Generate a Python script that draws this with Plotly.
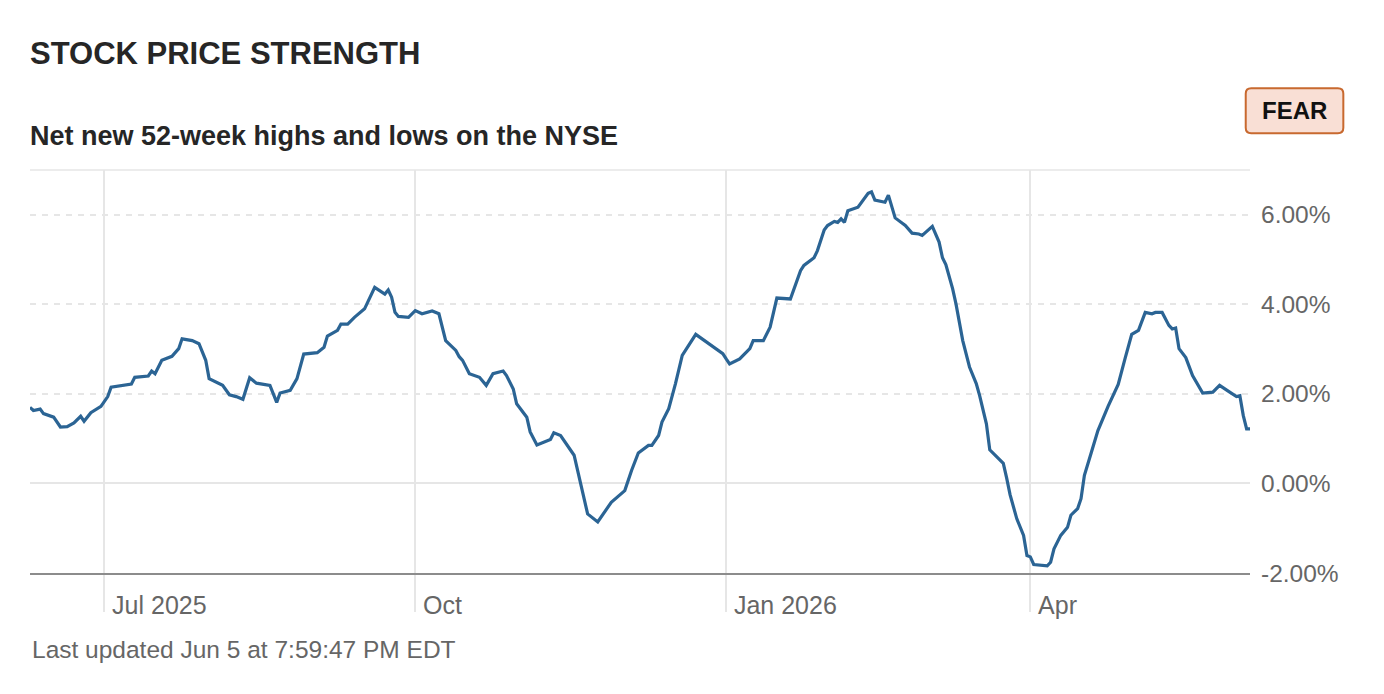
import plotly.graph_objects as go

# ---- data ----
dates = [
    "2025-06-09", "2025-06-10", "2025-06-12", "2025-06-13", "2025-06-16", "2025-06-18", "2025-06-20",
    "2025-06-22", "2025-06-24", "2025-06-25", "2025-06-27", "2025-06-30", "2025-07-02", "2025-07-03",
    "2025-07-09", "2025-07-10", "2025-07-14", "2025-07-15", "2025-07-16", "2025-07-18", "2025-07-21",
    "2025-07-23", "2025-07-24", "2025-07-27", "2025-07-29", "2025-07-30", "2025-07-31", "2025-08-01",
    "2025-08-05", "2025-08-07", "2025-08-09", "2025-08-11", "2025-08-13", "2025-08-15", "2025-08-19",
    "2025-08-21", "2025-08-22", "2025-08-25", "2025-08-27", "2025-08-29", "2025-09-02", "2025-09-04",
    "2025-09-05", "2025-09-08", "2025-09-09", "2025-09-11", "2025-09-13", "2025-09-16", "2025-09-19",
    "2025-09-22", "2025-09-23", "2025-09-24", "2025-09-25", "2025-09-26", "2025-09-29", "2025-10-01",
    "2025-10-03", "2025-10-06", "2025-10-08", "2025-10-10", "2025-10-13", "2025-10-14", "2025-10-15",
    "2025-10-17", "2025-10-20", "2025-10-22", "2025-10-24", "2025-10-27", "2025-10-28", "2025-10-30",
    "2025-10-31", "2025-11-03", "2025-11-04", "2025-11-06", "2025-11-10", "2025-11-11", "2025-11-13",
    "2025-11-17", "2025-11-19", "2025-11-21", "2025-11-24", "2025-11-28", "2025-12-02", "2025-12-04",
    "2025-12-06", "2025-12-09", "2025-12-10", "2025-12-12", "2025-12-13", "2025-12-15", "2025-12-17",
    "2025-12-19", "2025-12-23", "2025-12-29", "2025-12-31", "2026-01-01", "2026-01-02", "2026-01-05",
    "2026-01-07", "2026-01-08", "2026-01-09", "2026-01-12", "2026-01-14", "2026-01-16", "2026-01-20",
    "2026-01-23", "2026-01-24", "2026-01-27", "2026-01-28", "2026-01-30", "2026-01-31", "2026-02-02",
    "2026-02-03", "2026-02-04", "2026-02-05", "2026-02-06", "2026-02-09", "2026-02-10", "2026-02-12",
    "2026-02-13", "2026-02-14", "2026-02-17", "2026-02-18", "2026-02-20", "2026-02-23", "2026-02-25",
    "2026-02-27", "2026-02-28", "2026-03-03", "2026-03-05", "2026-03-06", "2026-03-07", "2026-03-09",
    "2026-03-10", "2026-03-12", "2026-03-14", "2026-03-16", "2026-03-17", "2026-03-19", "2026-03-20",
    "2026-03-23", "2026-03-24", "2026-03-25", "2026-03-26", "2026-03-28", "2026-03-30", "2026-03-31",
    "2026-04-01", "2026-04-02", "2026-04-06", "2026-04-07", "2026-04-08", "2026-04-10", "2026-04-12",
    "2026-04-13", "2026-04-15", "2026-04-16", "2026-04-17", "2026-04-19", "2026-04-21", "2026-04-24",
    "2026-04-27", "2026-04-29", "2026-05-01", "2026-05-03", "2026-05-05", "2026-05-07", "2026-05-08",
    "2026-05-10", "2026-05-12", "2026-05-13", "2026-05-14", "2026-05-15", "2026-05-17", "2026-05-19",
    "2026-05-22", "2026-05-25", "2026-05-27", "2026-05-30", "2026-06-01", "2026-06-02", "2026-06-03",
    "2026-06-04", "2026-06-05",
]

net_highs_lows_pct = [
    1.70, 1.63, 1.66, 1.56, 1.48, 1.26, 1.27,
    1.35, 1.50, 1.39, 1.58, 1.72, 1.94, 2.15,
    2.22, 2.37, 2.40, 2.51, 2.45, 2.75, 2.84,
    3.01, 3.23, 3.19, 3.12, 2.93, 2.75, 2.34,
    2.19, 1.98, 1.94, 1.88, 2.36, 2.24, 2.19,
    1.81, 2.02, 2.08, 2.34, 2.89, 2.92, 3.04,
    3.29, 3.42, 3.56, 3.56, 3.71, 3.90, 4.38,
    4.23, 4.32, 4.16, 3.82, 3.73, 3.71, 3.86,
    3.79, 3.85, 3.79, 3.19, 2.97, 2.83, 2.75,
    2.45, 2.37, 2.19, 2.45, 2.51, 2.41, 2.11,
    1.78, 1.48, 1.15, 0.86, 0.98, 1.13, 1.07,
    0.63, -0.04, -0.68, -0.86, -0.42, -0.16, 0.29,
    0.68, 0.85, 0.85, 1.07, 1.37, 1.67, 2.23,
    2.86, 3.33, 3.01, 2.90, 2.78, 2.67, 2.78,
    2.93, 3.01, 3.19, 3.19, 3.49, 4.14, 4.12,
    4.75, 4.87, 5.04, 5.20, 5.66, 5.76, 5.85,
    5.83, 5.91, 5.83, 6.09, 6.17, 6.28, 6.48,
    6.51, 6.33, 6.28, 6.44, 5.93, 5.76, 5.59,
    5.57, 5.54, 5.74, 5.39, 5.04, 4.89, 4.35,
    4.01, 3.19, 2.60, 2.23, 1.96, 1.33, 0.75,
    0.51, 0.45, 0.12, -0.25, -0.79, -1.16, -1.61,
    -1.64, -1.81, -1.84, -1.76, -1.46, -1.16, -0.98,
    -0.71, -0.56, -0.34, 0.18, 0.68, 1.18, 1.72,
    2.21, 2.78, 3.33, 3.42, 3.82, 3.79, 3.82,
    3.82, 3.53, 3.45, 3.47, 3.01, 2.81, 2.41,
    2.02, 2.04, 2.19, 2.04, 1.94, 1.96, 1.52,
    1.22, 1.22,
]

x_tick_dates = ["2025-07-01", "2025-10-01", "2026-01-01", "2026-04-01"]
x_tick_labels = ["Jul 2025", "Oct", "Jan 2026", "Apr"]
y_tick_values = [-2, 0, 2, 4, 6]
y_tick_labels = ["-2.00%", "0.00%", "2.00%", "4.00%", "6.00%"]

x_range = ["2025-06-09", "2026-06-05"]
y_range = [-2, 7]

title_text = "STOCK PRICE STRENGTH"
subtitle_text = "Net new 52-week highs and lows on the NYSE"
footer_text = "Last updated Jun 5 at 7:59:47 PM EDT"
badge_text = "FEAR"

# ---- styles ----
FONT = "Liberation Sans, Arial, Helvetica, sans-serif"
LINE_COLOR = "#2b6494"
GRID = "#e6e6e6"
TEXT_GRAY = "#666666"
DARK = "#262626"

fig = go.Figure()
fig.add_trace(go.Scatter(
    x=dates, y=net_highs_lows_pct, mode="lines",
    line=dict(color=LINE_COLOR, width=3.2),
    hoverinfo="skip", showlegend=False,
))

fig.update_layout(
    width=1384, height=694,
    margin=dict(l=30, r=134, t=170, b=121),
    paper_bgcolor="white", plot_bgcolor="white",
    font=dict(family=FONT, color=TEXT_GRAY),
    xaxis=dict(
        type="date", range=x_range,
        tickvals=x_tick_dates, ticktext=x_tick_labels,
        showgrid=True, gridcolor=GRID, gridwidth=1.5,
        ticks="outside", ticklen=37, tickcolor=GRID, tickwidth=1.5,
        ticklabelposition="outside right", ticklabelshift=6, ticklabelstandoff=9,
        tickfont=dict(family=FONT, size=25, color=TEXT_GRAY),
        showline=True, linecolor="#8c8c8c", linewidth=2,
        zeroline=False, fixedrange=True,
    ),
    yaxis=dict(
        side="right", range=y_range,
        tickvals=y_tick_values, ticktext=y_tick_labels,
        showgrid=True, gridcolor=GRID, gridwidth=1.5, griddash="6px,6px",
        zeroline=True, zerolinecolor=GRID, zerolinewidth=2,
        ticks="", ticklabelstandoff=10,
        tickfont=dict(family=FONT, size=24.5, color=TEXT_GRAY),
        showline=False, fixedrange=True,
    ),
)

# top border line of plot area
fig.add_shape(type="line", xref="paper", yref="paper", x0=0, x1=1, y0=1, y1=1,
              line=dict(color=GRID, width=1.5), layer="below")

# FEAR badge (rounded rectangle)
bx0, bx1, by0, by1 = 0.9965, 1.0765, 1.0911, 1.2027
rx, ry = 0.0045, 0.0135
path = (f"M {bx0+rx},{by0} L {bx1-rx},{by0} Q {bx1},{by0} {bx1},{by0+ry} "
        f"L {bx1},{by1-ry} Q {bx1},{by1} {bx1-rx},{by1} L {bx0+rx},{by1} "
        f"Q {bx0},{by1} {bx0},{by1-ry} L {bx0},{by0+ry} Q {bx0},{by0} {bx0+rx},{by0} Z")
fig.add_shape(type="path", xref="paper", yref="paper", path=path,
              fillcolor="#f9dfd5", line=dict(color="#c8692f", width=2))

fig.add_annotation(text=badge_text, xref="paper", yref="paper", x=1.0365, y=1.1469,
                   xanchor="center", yanchor="middle", showarrow=False,
                   font=dict(family=FONT, size=24, color="#111111", weight="bold"))

fig.add_annotation(text=title_text, xref="paper", yref="paper", x=0, y=1.2903,
                   xanchor="left", yanchor="middle", showarrow=False, xshift=-2,
                   font=dict(family=FONT, size=31, color=DARK, weight="bold"))
fig.add_annotation(text=subtitle_text, xref="paper", yref="paper", x=0, y=1.0844,
                   xanchor="left", yanchor="middle", showarrow=False, xshift=-2,
                   font=dict(family=FONT, size=27, color=DARK, weight="bold"))
fig.add_annotation(text=footer_text, xref="paper", yref="paper", x=0, y=-0.191,
                   xanchor="left", yanchor="middle", showarrow=False, xshift=0,
                   font=dict(family=FONT, size=24.5, color=TEXT_GRAY))

fig.write_html("out.html")
